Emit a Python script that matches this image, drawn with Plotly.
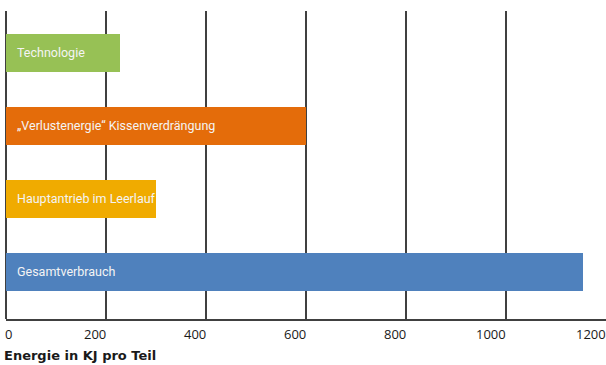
import plotly.graph_objects as go

categories = ["Technologie", "„Verlustenergie“ Kissenverdrängung", "Hauptantrieb im Leerlauf", "Gesamtverbrauch"]
values = [228, 600, 300, 1154]
colors = ["#97c155", "#e46c0a", "#f0ab00", "#4f81bd"]
tick_values = [0, 200, 400, 600, 800, 1000, 1200]
tick_labels = ["0", "200", "400", "600", "800", "1000", "1200"]
x_title = "Energie in KJ pro Teil"

fig = go.Figure()
fig.add_trace(go.Bar(
    y=categories, x=values, orientation="h",
    marker=dict(color=colors, line=dict(width=0)),
    width=0.52, hoverinfo="skip", showlegend=False,
))

annotations = []
for cat in categories:
    annotations.append(dict(
        x=0, y=cat, xref="x", yref="y", text=cat, showarrow=False,
        xanchor="left", yanchor="middle", xshift=9,
        font=dict(family="Roboto", size=12.5, color="#f4f4f4"),
    ))
for v, lab in zip(tick_values, tick_labels):
    annotations.append(dict(
        x=v, y=0, xref="x", yref="paper", text=lab, showarrow=False,
        xanchor="left" if v == 0 else "right", yanchor="top",
        xshift=-3 if v == 0 else 2, yshift=-4,
        font=dict(family="Open Sans", size=13, color="#1a1a1a"),
    ))
annotations.append(dict(
    x=0, y=0, xref="paper", yref="paper", text="<b>" + x_title + "</b>", showarrow=False,
    xanchor="left", yanchor="top", xshift=-4, yshift=-27,
    font=dict(family="DejaVu Sans", size=13, color="#1a1a1a"),
))

fig.update_layout(
    width=606, height=365,
    margin=dict(l=6, r=0, t=11, b=46),
    paper_bgcolor="white", plot_bgcolor="white",
    annotations=annotations,
    xaxis=dict(
        range=[0, 1200], tickvals=tick_values[:-1], showticklabels=False,
        showgrid=True, gridcolor="#404040", gridwidth=1.5,
        zeroline=True, zerolinecolor="#404040", zerolinewidth=1.5,
        showline=True, linecolor="#404040", linewidth=1.5, mirror=False,
        ticks="", fixedrange=True,
    ),
    yaxis=dict(
        type="category", categoryorder="array", categoryarray=categories,
        range=[3.644, -0.575], showticklabels=False, showgrid=False,
        zeroline=False, showline=False, ticks="", fixedrange=True,
    ),
    bargap=0.48,
)

fig.write_html("out.html")
